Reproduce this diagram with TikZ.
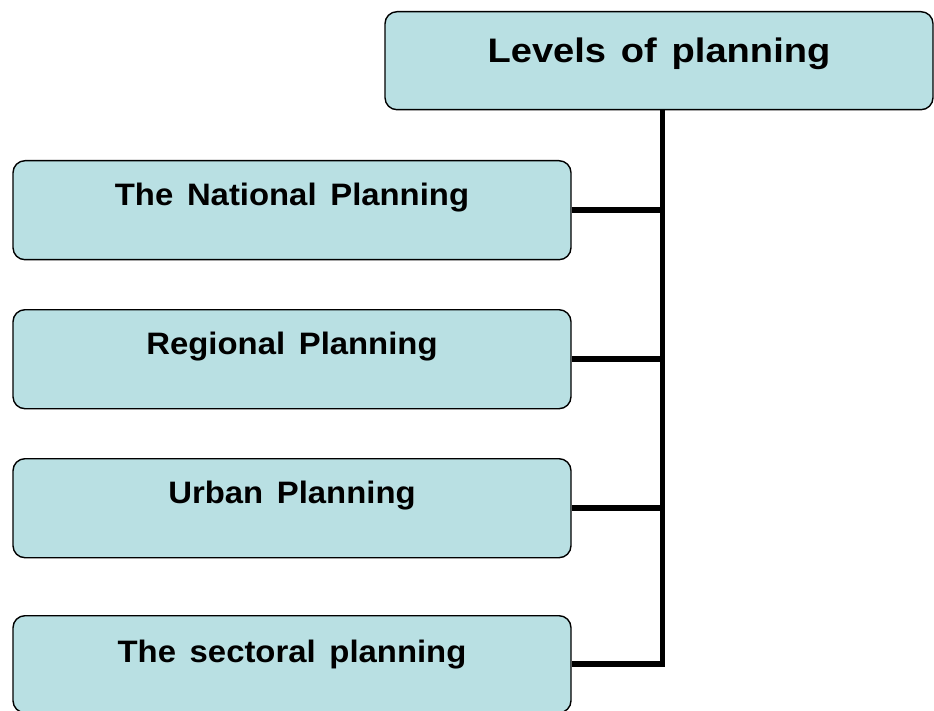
\documentclass[tikz,border=0pt]{standalone}
\usepackage{fontspec}
\newfontfamily\titlefont{Liberation Sans}[FakeStretch=1.12, WordSpace=1.4]
\newfontfamily\boxfont{Liberation Sans}[FakeStretch=1.06, WordSpace=1.5]
\definecolor{boxfill}{RGB}{185,224,227}
\tikzset{
  levelbox/.style={draw=black, line width=1.4pt, fill=boxfill, rounded corners=12pt,
    inner xsep=0pt, inner ysep=0pt, anchor=north, align=center},
  subbox/.style={levelbox, minimum width=558pt, text height=45pt, text depth=54pt,
    font=\boxfont\bfseries\fontsize{31}{36}\selectfont},
  titlebox/.style={levelbox, minimum width=548pt, text height=51pt, text depth=47pt,
    font=\titlefont\bfseries\fontsize{34}{40}\selectfont},
  link/.style={line width=5.5pt}
}
\begin{document}
\begin{tikzpicture}[x=1pt,y=-1pt]
\useasboundingbox (0,0) rectangle (934,711);
\node[titlebox] (top) at (659,11) {Levels of planning};
\node[subbox] (b1) at (292,160) {The National Planning};
\node[subbox] (b2) at (292,309) {Regional Planning};
\node[subbox] (b3) at (292,458) {Urban Planning};
\node[subbox, text height=47pt, text depth=50pt] (b4) at (292,615) {The sectoral planning};
\coordinate (trunk) at ([xshift=3.5pt]top.south);
\draw[link] (trunk) |- (b4.east);
\draw[link] (b1.east) -- (b1.east -| trunk);
\draw[link] (b2.east) -- (b2.east -| trunk);
\draw[link] (b3.east) -- (b3.east -| trunk);
\end{tikzpicture}
\end{document}
